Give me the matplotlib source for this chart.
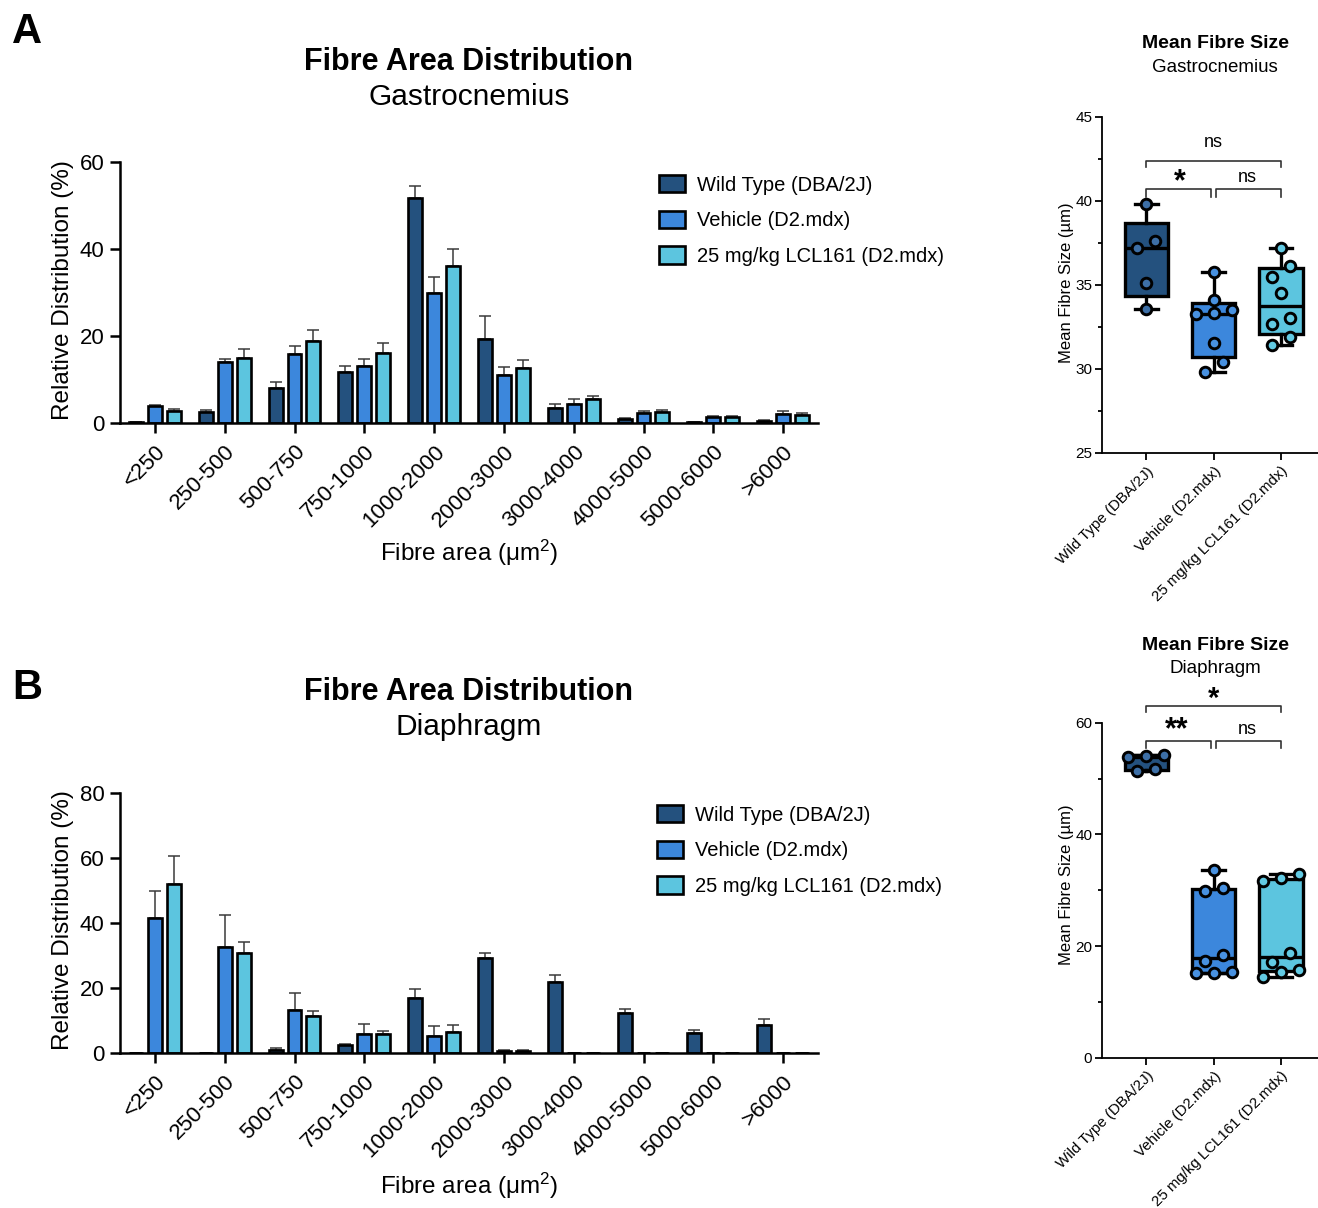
import numpy as np
import matplotlib
matplotlib.use("Agg")
import matplotlib.pyplot as plt
from matplotlib.ticker import MultipleLocator

plt.rcParams['font.family'] = ['Liberation Sans', 'DejaVu Sans']
plt.rcParams['mathtext.fontset'] = 'custom'
plt.rcParams['mathtext.rm'] = 'Liberation Sans'
plt.rcParams['mathtext.it'] = 'Liberation Sans:italic'
plt.rcParams['mathtext.bf'] = 'Liberation Sans:bold'

# ---------------- data ----------------
bins = ["<250", "250-500", "500-750", "750-1000", "1000-2000", "2000-3000",
        "3000-4000", "4000-5000", "5000-6000", ">6000"]
groups = ["Wild Type (DBA/2J)", "Vehicle (D2.mdx)", "25 mg/kg LCL161 (D2.mdx)"]

gas_wt = [0.15, 2.5, 8.0, 11.8, 51.7, 19.4, 3.4, 0.85, 0.2, 0.5]
gas_wt_err = [0.05, 0.6, 1.4, 1.3, 2.8, 5.2, 1.0, 0.25, 0.05, 0.15]
gas_veh = [3.8, 14.0, 15.9, 13.0, 30.0, 11.1, 4.45, 2.3, 1.4, 2.1]
gas_veh_err = [0.4, 0.7, 1.7, 1.8, 3.5, 1.8, 1.15, 0.5, 0.3, 0.6]
gas_lcl = [2.8, 14.9, 18.9, 16.05, 36.0, 12.75, 5.45, 2.5, 1.4, 1.8]
gas_lcl_err = [0.4, 2.0, 2.5, 2.35, 4.0, 1.65, 0.75, 0.6, 0.2, 0.6]

dia_wt = [0, 0, 0.8, 2.4, 16.9, 29.2, 21.8, 12.3, 6.3, 8.5]
dia_wt_err = [0, 0, 0.6, 0.4, 2.7, 1.7, 2.3, 1.2, 0.8, 1.9]
dia_veh = [41.5, 32.5, 13.1, 5.9, 5.1, 0.5, 0, 0, 0, 0]
dia_veh_err = [8.2, 10.1, 5.3, 2.9, 3.1, 0.3, 0, 0, 0, 0]
dia_lcl = [51.9, 30.7, 11.5, 5.8, 6.6, 0.5, 0, 0, 0, 0]
dia_lcl_err = [8.6, 3.6, 1.4, 1.0, 1.9, 0.3, 0, 0, 0, 0]

box_labels = ["Wild Type (DBA/2J)", "Vehicle (D2.mdx)", "25 mg/kg LCL161 (D2.mdx)"]
gas_box_wt = [39.8, 37.6, 37.2, 35.1, 33.6]
gas_box_veh = [35.75, 34.1, 33.5, 33.25, 33.35, 31.55, 30.4, 29.8]
gas_box_lcl = [37.2, 36.15, 35.5, 34.5, 33.05, 32.65, 31.9, 31.45]
dia_box_wt = [54.1, 54.3, 53.9, 51.7, 51.4]
dia_box_veh = [33.6, 30.45, 29.85, 18.4, 17.3, 15.2, 15.3, 15.2]
dia_box_lcl = [32.85, 32.1, 31.6, 18.7, 17.2, 15.7, 15.4, 14.5]

# ---------------- style ----------------
bar_colors = ['#24517e', '#3c87dc', '#5cc5df']
dot_colors = ['#3d6fa6', '#4891e0', '#62cae3']

W, H = 1318, 1208
fig = plt.figure(figsize=(W / 100, H / 100), dpi=100)


def rect(l, t, r, b):
    return [l / W, 1 - b / H, (r - l) / W, (b - t) / H]


def ft(x, y, s, **kw):
    kw.setdefault('ha', 'center')
    kw.setdefault('va', 'center')
    fig.text(x / W, 1 - y / H, s, **kw)


def bar_panel(ax, series, errs, ymax, ystep):
    x = np.arange(len(bins))
    offs = [-0.27, 0.0, 0.27]
    for i, (vals, err) in enumerate(zip(series, errs)):
        xs = x + offs[i]
        vals = np.asarray(vals, float)
        err = np.asarray(err, float)
        ax.errorbar(xs, vals, yerr=[np.zeros_like(err), err], fmt='none',
                    ecolor='#3a3a3a', elinewidth=1.1, capsize=4, capthick=1.1, zorder=1)
        ax.bar(xs, vals, width=0.2, color=bar_colors[i], edgecolor='black',
               linewidth=1.9, label=groups[i], zorder=2)
    ax.set_xlim(-0.5, len(bins) - 0.5)
    ax.set_ylim(0, ymax)
    ax.set_yticks(np.arange(0, ymax + 1, ystep))
    ax.set_xticks(x)
    ax.set_xticklabels(bins, rotation=45, ha='right', rotation_mode='anchor')
    for s in ['top', 'right']:
        ax.spines[s].set_visible(False)
    for s in ['left', 'bottom']:
        ax.spines[s].set_linewidth(1.8)
    ax.tick_params(axis='both', width=1.8, length=7, labelsize=16, pad=4)
    ax.tick_params(axis='x', pad=6)


def swarm_x(ax, pos, vals, diam_px=11.0, step_px=18.0):
    vals = np.asarray(vals, float)
    trans = ax.transData
    pxu = trans.transform((pos + 1, 0))[0] - trans.transform((pos, 0))[0]
    ypx = np.array([trans.transform((0, v))[1] for v in vals])
    order = np.argsort(vals)
    out = np.zeros(len(vals))
    clusters = []
    for idx in order:
        if clusters and ypx[idx] - ypx[clusters[-1][0]] < diam_px:
            clusters[-1].append(idx)
        else:
            clusters.append([idx])
    for cl in clusters:
        n = len(cl)
        for j, idx in enumerate(cl):
            out[idx] = pos + (j - (n - 1) / 2) * step_px / pxu
    return out


def box_panel(ax, data, ylim, major, minor):
    ax.set_xlim(-0.66, 2.55)
    ax.set_ylim(*ylim)
    stats = []
    for d in data:
        d = np.asarray(d, float)
        q1, med, q3 = np.percentile(d, [25, 50, 75], method='weibull')
        stats.append(dict(med=med, q1=q1, q3=q3, whislo=d.min(), whishi=d.max(), fliers=[]))
    bp = ax.bxp(stats, positions=[0, 1, 2], widths=0.64, patch_artist=True,
                showfliers=False, capwidths=0.34,
                boxprops=dict(linewidth=2.4, edgecolor='black'),
                whiskerprops=dict(linewidth=2.4, color='black'),
                capprops=dict(linewidth=2.4, color='black'),
                medianprops=dict(color='black', linewidth=2.4))
    for patch, c in zip(bp['boxes'], bar_colors):
        patch.set_facecolor(c)
    for i, d in enumerate(data):
        xs = swarm_x(ax, i, d)
        ax.scatter(xs, d, s=58, facecolor=dot_colors[i], edgecolor='black',
                   linewidth=2.1, zorder=4, clip_on=False)
    ax.set_xticks([0, 1, 2])
    ax.set_xticklabels(box_labels, rotation=45, ha='right', rotation_mode='anchor')
    ax.yaxis.set_major_locator(MultipleLocator(major))
    ax.yaxis.set_minor_locator(MultipleLocator(minor))
    for s in ['top', 'right']:
        ax.spines[s].set_visible(False)
    for s in ['left', 'bottom']:
        ax.spines[s].set_linewidth(1.3)
    ax.tick_params(axis='both', which='major', width=1.3, length=5, labelsize=11, pad=2)
    ax.tick_params(axis='y', which='minor', width=1.3, length=3)
    ax.tick_params(axis='x', labelsize=10.8, pad=3)


def bracket(ax, x0, x1, y, ydrop, lw=1.2):
    ax.plot([x0, x0, x1, x1], [y - ydrop, y, y, y - ydrop], color='#333333',
            lw=lw, clip_on=False, zorder=5)


leg_kw = dict(frameon=False, fontsize=14.5, handlelength=1.3, handleheight=0.95,
              handletextpad=0.6, labelspacing=0.8, borderaxespad=0, borderpad=0)

# ---------------- panel A bars ----------------
axA = fig.add_axes(rect(120, 162, 818, 423))
bar_panel(axA, [gas_wt, gas_veh, gas_lcl], [gas_wt_err, gas_veh_err, gas_lcl_err], 60, 20)
axA.legend(loc='upper left', bbox_to_anchor=(659 / W, 1 - 175 / H),
           bbox_transform=fig.transFigure, **leg_kw)
ft(469, 62, "Fibre Area Distribution", fontsize=22, fontweight='bold')
ft(469, 97, "Gastrocnemius", fontsize=21.5)
ft(469, 553, "Fibre area (μm$^2$)", fontsize=17.5)
ft(63, 290, "Relative Distribution (%)", fontsize=17.5, rotation=90)
ft(27, 32, "A", fontsize=30, fontweight='bold')

# ---------------- panel B bars ----------------
axB = fig.add_axes(rect(120, 793, 818, 1053))
bar_panel(axB, [dia_wt, dia_veh, dia_lcl], [dia_wt_err, dia_veh_err, dia_lcl_err], 80, 20)
axB.legend(loc='upper left', bbox_to_anchor=(657 / W, 1 - 805 / H),
           bbox_transform=fig.transFigure, **leg_kw)
ft(469, 692, "Fibre Area Distribution", fontsize=22, fontweight='bold')
ft(469, 727, "Diaphragm", fontsize=21.5)
ft(469, 1186, "Fibre area (μm$^2$)", fontsize=17.5)
ft(63, 920, "Relative Distribution (%)", fontsize=17.5, rotation=90)
ft(27, 688, "B", fontsize=30, fontweight='bold')

# ---------------- panel A box ----------------
axC = fig.add_axes(rect(1102, 117, 1318, 453))
box_panel(axC, [gas_box_wt, gas_box_veh, gas_box_lcl], (25, 45), 5, 2.5)
bracket(axC, 0, 2, 42.4, 0.35)
bracket(axC, 0, 0.96, 40.7, 0.45)
bracket(axC, 1.04, 2, 40.7, 0.45)
axC.text(1, 43.0, "ns", ha='center', va='bottom', fontsize=13, clip_on=False)
axC.text(0.5, 40.2, "*", ha='center', va='bottom', fontsize=22, fontweight='bold', clip_on=False)
axC.text(1.5, 40.9, "ns", ha='center', va='bottom', fontsize=13, clip_on=False)
ft(1215, 44, "Mean Fibre Size", fontsize=14, fontweight='bold')
ft(1215, 68, "Gastrocnemius", fontsize=13.5)
ft(1066, 283, "Mean Fibre Size (µm)", fontsize=12, rotation=90)

# ---------------- panel B box ----------------
axD = fig.add_axes(rect(1102, 722.7, 1318, 1057.7))
box_panel(axD, [dia_box_wt, dia_box_veh, dia_box_lcl], (0, 60), 20, 10)
bracket(axD, 0, 2, 63.0, 1.0)
bracket(axD, 0, 0.96, 56.7, 1.3)
bracket(axD, 1.04, 2, 56.7, 1.3)
axD.text(1, 61.8, "*", ha='center', va='bottom', fontsize=21, fontweight='bold', clip_on=False)
axD.text(0.45, 55.9, "**", ha='center', va='bottom', fontsize=22, fontweight='bold', clip_on=False)
axD.text(1.5, 57.3, "ns", ha='center', va='bottom', fontsize=13, clip_on=False)
ft(1215, 645, "Mean Fibre Size", fontsize=14, fontweight='bold')
ft(1215, 668, "Diaphragm", fontsize=13.5)
ft(1066, 885, "Mean Fibre Size (µm)", fontsize=12, rotation=90)

fig.savefig("out.png", dpi=100)
